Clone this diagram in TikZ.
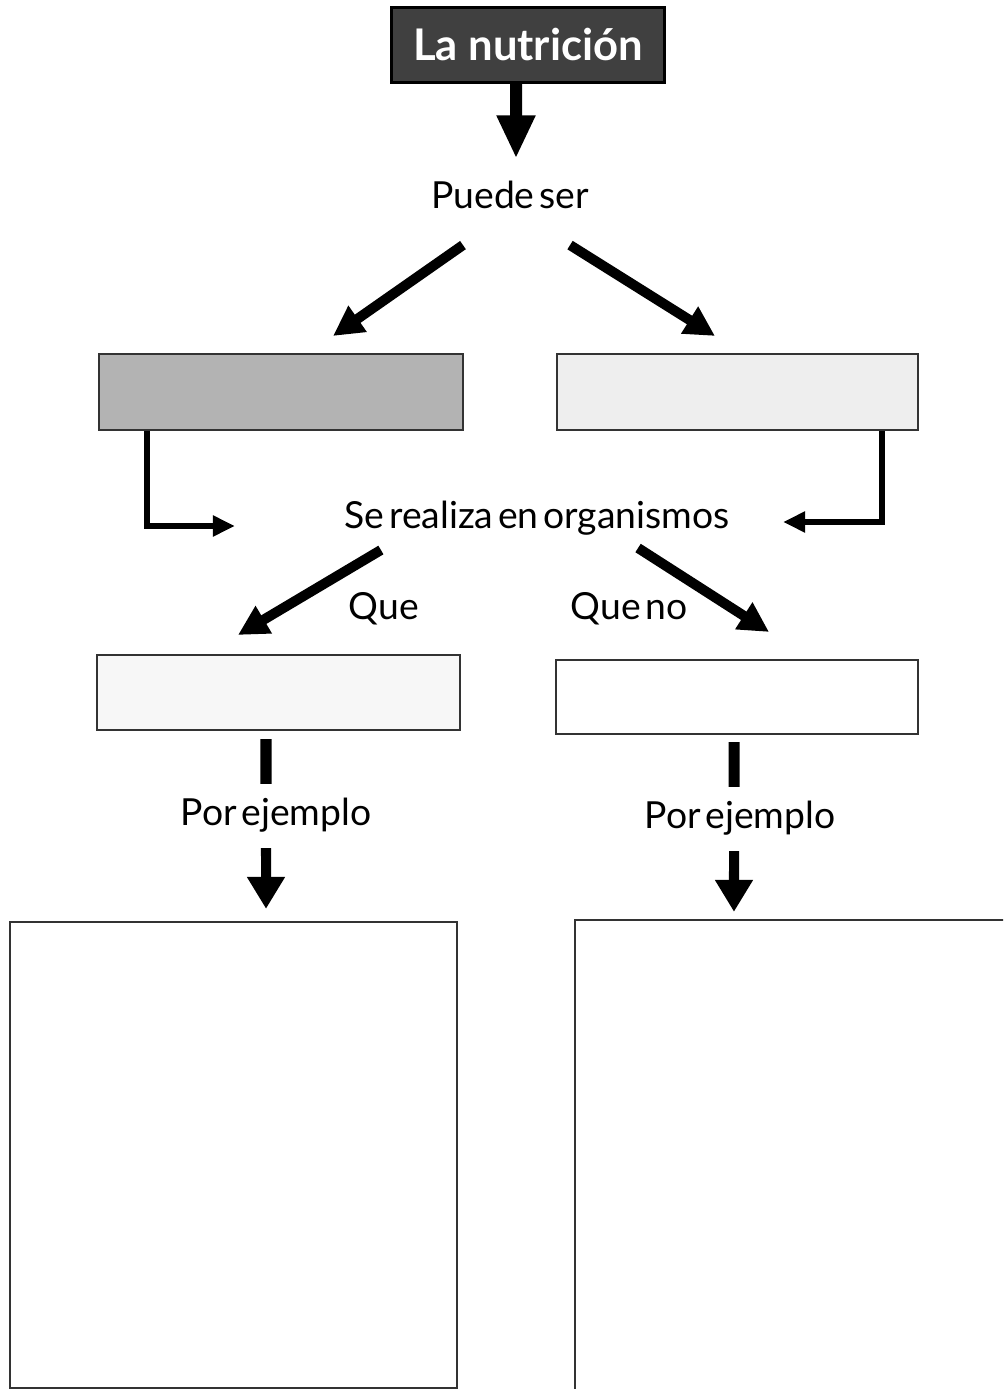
\documentclass[tikz,border=0pt]{standalone}
\usepackage{fontspec}
\setmainfont{Lato}[WordSpace=0.5]
\newfontfamily\titlefont{Lato}
\usetikzlibrary{arrows.meta}
\definecolor{titlegrey}{RGB}{64,64,64}
\definecolor{boxgrey}{RGB}{179,179,179}
\definecolor{boxlight}{RGB}{238,238,238}
\definecolor{boxpale}{RGB}{247,247,247}
\begin{document}
\begin{tikzpicture}[x=0.01cm,y=-0.01cm]
\tikzstyle{every node}+=[inner sep=0pt]
\tikzstyle{box}=[draw=black!80,line width=0.02cm,rectangle]
\tikzstyle{txt}=[font=\fontsize{10.6}{13}\selectfont]
\tikzstyle{fat}=[line width=0.12cm,-{Triangle[length=0.43cm,width=0.36cm]}]
\tikzstyle{down}=[line width=0.1cm,-{Triangle[length=0.32cm,width=0.36cm]}]
\tikzstyle{slant}=[line width=0.1cm,-{Triangle[length=0.3cm,width=0.3cm]}]
\tikzstyle{elbow}=[line width=0.06cm,-{Triangle[length=0.22cm,width=0.2cm]}]
\tikzstyle{bar}=[line width=0.11cm]
\useasboundingbox (0,0) rectangle (1003,1389);
\clip (0,0) rectangle (1003,1389);
\node[box,fill=titlegrey,draw=black,line width=0.03cm,minimum width=2.73cm,minimum height=0.74cm] (title) at (528,45) {\titlefont\fontsize{12.4}{15}\selectfont\bfseries\color{white}La nutrición};
\node[txt] (puede) at (510,195) {Puede ser};
\node[box,fill=boxgrey,minimum width=3.64cm,minimum height=0.76cm] (boxA) at (281,392) {};
\node[box,fill=boxlight,minimum width=3.61cm,minimum height=0.76cm] (boxB) at (737.5,392) {};
\node[txt] (realiza) at (537,518) {Se realiza en organismos};
\node[txt] (que) at (384,609) {Que};
\node[txt] (queno) at (629,609) {Que no};
\node[box,fill=boxpale,minimum width=3.63cm,minimum height=0.75cm] (boxC) at (278.5,692.5) {};
\node[box,fill=white,minimum width=3.62cm,minimum height=0.74cm] (boxD) at (737,697) {};
\node[txt] (ejA) at (276,815) {Por ejemplo};
\node[txt] (ejB) at (740,818) {Por ejemplo};
\node[box,minimum width=4.47cm,minimum height=4.66cm] (boxE) at (233.5,1155) {};
\node[box,minimum width=4.4cm,minimum height=4.9cm] (boxF) at (795,1165) {};
\draw[fat] ([xshift=-0.12cm]title.south) -- ([xshift=0.06cm,yshift=0.22cm]puede.north);
\draw[slant] ([xshift=-0.47cm,yshift=-0.355cm]puede.south) -- ([xshift=0.52cm,yshift=0.17cm]boxA.north);
\draw[slant] ([xshift=0.6cm,yshift=-0.355cm]puede.south) -- ([xshift=-0.225cm,yshift=0.17cm]boxB.north);
\draw[elbow] ([xshift=0.49cm]boxA.south west) |- ([xshift=-3.02cm,yshift=-0.08cm]realiza.center);
\draw[elbow] ([xshift=-0.37cm]boxB.south east) |- ([xshift=2.46cm,yshift=-0.04cm]realiza.center);
\draw[slant] ([xshift=-1.56cm,yshift=-0.32cm]realiza.center) -- ([xshift=-0.405cm,yshift=0.19cm]boxC.north);
\draw[slant] ([xshift=1.01cm,yshift=-0.3cm]realiza.center) -- ([xshift=0.32cm,yshift=0.27cm]boxD.north);
\draw[bar] ([xshift=-0.125cm,yshift=-0.08cm]boxC.south) -- ([xshift=-0.1cm,yshift=0.31cm]ejA.center);
\draw[down] ([xshift=-0.1cm,yshift=-0.33cm]ejA.center) -- ([xshift=0.325cm,yshift=0.12cm]boxE.north);
\draw[bar] ([xshift=-0.03cm,yshift=-0.07cm]boxD.south) -- ([xshift=-0.06cm,yshift=0.31cm]ejB.center);
\draw[down] ([xshift=-0.06cm,yshift=-0.33cm]ejB.center) -- ([xshift=-0.61cm,yshift=0.07cm]boxF.north);
\end{tikzpicture}
\end{document}
